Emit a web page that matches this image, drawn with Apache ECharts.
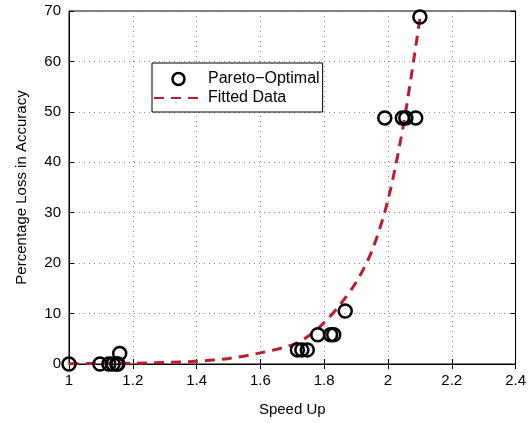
<!DOCTYPE html>
<html>
<head>
<meta charset="utf-8">
<script src="https://cdn.jsdelivr.net/npm/echarts@6/dist/echarts.min.js"></script>
<style>
  html, body { margin: 0; padding: 0; background: #fff; }
  #chart { width: 529px; height: 423px; }
</style>
</head>
<body>
<div id="chart"></div>
<script>
// Pareto-optimal points (speed up, % loss in accuracy)
var paretoX = [1.0, 1.097, 1.125, 1.138, 1.15, 1.153, 1.159, 1.716, 1.73, 1.747, 1.78, 1.82, 1.83, 1.866, 1.99, 2.045, 2.056, 2.087, 2.1]
var paretoY = [0, 0, 0, 0, 0, 0, 2.1, 2.8, 2.8, 2.8, 5.8, 5.8, 5.8, 10.5, 48.8, 48.8, 48.8, 48.8, 68.8]
// fitted curve
var fitX = [1.0, 1.1, 1.2, 1.3, 1.4, 1.5, 1.6, 1.7, 1.75, 1.8, 1.85, 1.9, 1.95, 2.0, 2.05, 2.1]
var fitY = [0.05, 0.1, 0.15, 0.3, 0.55, 1.1, 2.2, 3.8, 5.5, 8.2, 11.8, 16.2, 22.5, 32.5, 48, 68.5]
var xTicks = [1, 1.2, 1.4, 1.6, 1.8, 2, 2.2, 2.4]
var yTicks = [0, 10, 20, 30, 40, 50, 60, 70]

var font = 'Liberation Sans, Arial, sans-serif'
var myChart = echarts.init(document.getElementById('chart'))

function pairs(xs, ys) {
  return xs.map(function (x, i) { return [x, ys[i]] })
}

var tickStyle = { show: true, inside: true, length: 5, lineStyle: { color: '#000', width: 1 } }
var gridLine = { show: true, lineStyle: { color: '#888', type: [1, 4], width: 1 } }

var option = {
  animation: false,
  backgroundColor: '#fff',
  grid: {
    left: 69, right: 12, top: 11, bottom: 59,
    show: true, borderColor: '#000', borderWidth: 1, backgroundColor: 'transparent'
  },
  legend: {
    orient: 'vertical',
    left: 152, top: 63,
    padding: [8, 3, 6, 1],
    itemGap: 3,
    itemWidth: 49,
    itemHeight: 12,
    backgroundColor: '#fff',
    borderColor: '#000',
    borderWidth: 1,
    borderRadius: 0,
    textStyle: { fontFamily: font, fontSize: 16, color: '#000' },
    data: [
      { name: 'Pareto\u2212Optimal', icon: 'circle',
        itemStyle: { color: 'transparent', borderColor: '#000', borderWidth: 2.5 } },
      { name: 'Fitted Data', itemStyle: { color: 'transparent', borderWidth: 0, opacity: 0 } }
    ]
  },
  xAxis: [{
    type: 'value', min: 1, max: 2.4, interval: 0.2,
    name: 'Speed Up', nameLocation: 'middle', nameGap: 38,
    nameTextStyle: { fontFamily: font, fontSize: 15, color: '#000' },
    axisLine: { show: true, onZero: false, lineStyle: { color: '#000' } },
    axisTick: tickStyle,
    axisLabel: {
      margin: 9, fontFamily: font, fontSize: 15, color: '#000',
      formatter: function (v) { return xTicks.indexOf(+v.toFixed(1)) >= 0 ? String(+v.toFixed(1)) : '' }
    },
    splitLine: gridLine
  }, {
    type: 'value', min: 1, max: 2.4, interval: 0.2, position: 'top',
    axisLine: { show: true, lineStyle: { color: '#000' } },
    axisTick: tickStyle, axisLabel: { show: false }, splitLine: { show: false }
  }],
  yAxis: [{
    type: 'value', min: 0, max: 70, interval: 10,
    name: 'Percentage Loss in Accuracy', nameLocation: 'middle', nameGap: 40,
    nameTextStyle: { fontFamily: font, fontSize: 15, color: '#000' },
    axisLine: { show: true, onZero: false, lineStyle: { color: '#000' } },
    axisTick: tickStyle,
    axisLabel: {
      margin: 8, fontFamily: font, fontSize: 15, color: '#000',
      formatter: function (v) { return yTicks.indexOf(v) >= 0 ? String(v) : '' }
    },
    splitLine: gridLine
  }, {
    type: 'value', min: 0, max: 70, interval: 10, position: 'right',
    axisLine: { show: true, lineStyle: { color: '#000' } },
    axisTick: tickStyle, axisLabel: { show: false }, splitLine: { show: false }
  }],
  series: [
    {
      name: 'Fitted Data',
      type: 'line',
      data: pairs(fitX, fitY),
      smooth: 0.3,
      symbol: 'none',
      z: 3,
      lineStyle: { color: '#bb1e2a', width: 3, type: [10, 7] },
      itemStyle: { color: '#bb1e2a' }
    },
    {
      name: 'Pareto\u2212Optimal',
      type: 'scatter',
      data: pairs(paretoX, paretoY),
      symbol: 'circle',
      symbolSize: 13,
      z: 4,
      itemStyle: { color: 'transparent', borderColor: '#000', borderWidth: 2.5, opacity: 1 }
    }
  ]
}

myChart.setOption(option)
</script>
</body>
</html>
